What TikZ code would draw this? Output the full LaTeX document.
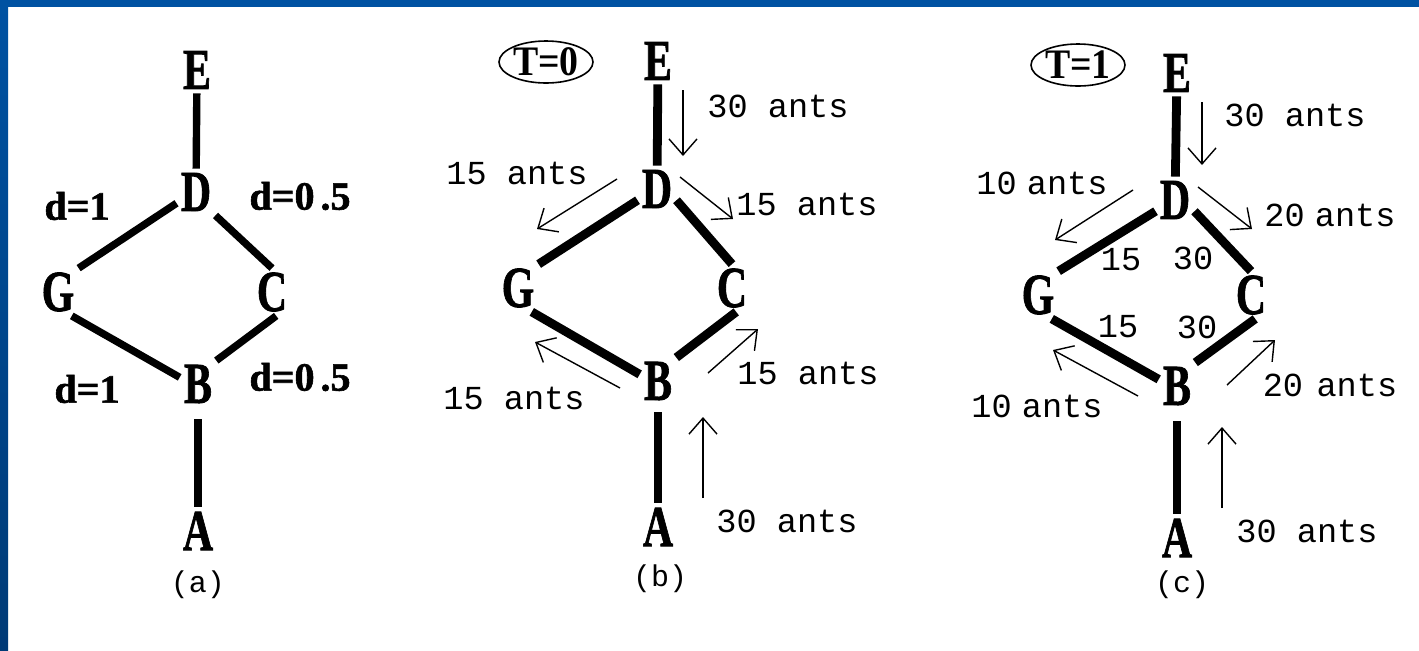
\documentclass[tikz,border=0pt]{standalone}
\usepackage{fontspec}
\usepackage{graphicx}
\setmainfont{Liberation Serif}
\setmonofont{Liberation Mono}
\newfontfamily\heavyserif{Liberation Serif}[BoldFeatures={FakeBold=1.5}]
\usetikzlibrary{arrows.meta,shapes.geometric}
\newcommand{\cond}[1]{\scalebox{0.72}[1]{#1}}
\definecolor{frameblue}{HTML}{0052A2}
\definecolor{framedark}{HTML}{003A76}
\begin{document}
\begin{tikzpicture}[x=0.5pt,y=-0.5pt,
  vtx/.style={font=\fontsize{29}{29}\selectfont\heavyserif\bfseries, inner sep=2pt},
  lab/.style={font=\ttfamily\fontsize{16.8}{16.8}\selectfont, inner sep=0pt},
  dlab/.style={font=\heavyserif\bfseries\fontsize{20}{20}\selectfont, inner sep=0pt},
  capt/.style={font=\ttfamily\fontsize{15}{15}\selectfont, inner sep=0pt},
  tbox/.style={ellipse, draw, line width=0.8pt, minimum width=47pt, minimum height=21pt, inner sep=0pt, font=\bfseries\fontsize{21}{21}\selectfont},
  edgeA/.style={line width=3.7pt},
  edgeB/.style={line width=4.4pt},
  ant/.style={line width=0.7pt, -{Straight Barb[length=8pt,width=14pt,line width=0.7pt]}}]
\useasboundingbox (0,0) rectangle (1419,650);
\fill[white] (0,0) rectangle (1419,650);
\shade[top color=frameblue, bottom color=framedark] (0,0) rectangle (8,650);
\fill[frameblue] (0,0) rectangle (1419,7);

% ---------- panel (a)
\node[vtx] (aE) at (197,70) {\cond{E}};
\node[vtx] (aD) at (196,192) {\cond{D}};
\node[vtx] (aG) at (58,292) {\cond{G}};
\node[vtx] (aC) at (272,292) {\cond{C}};
\node[vtx] (aB) at (198,384) {\cond{B}};
\node[vtx] (aA) at (198,531) {\cond{A}};
\draw[edgeA] (aE) -- (aD);
\draw[edgeA] (aD.210) -- (aG.north east);
\draw[edgeA] (aD.south east) -- (aC.north);
\draw[edgeA] (aG.-60) -- (aB.160);
\draw[edgeA] (aC.-80) -- (aB.north east);
\draw[edgeA,shorten <=6pt] (aB) -- (aA);
\node[dlab] (ad1) at (77,206) {d=1};
\node[dlab] (ad2) at (300,196) {d=0\kern3pt.5};
\node[dlab] (ad3) at (87,389) {d=1};
\node[dlab] (ad4) at (300,377) {d=0\kern3pt.5};
\node[capt] (acap) at (198,585) {(a)};

% ---------- panel (b)
\node[tbox] (bT) at (546,62) {\scalebox{0.9}[1]{T=0}};
\node[vtx] (bE) at (658,61) {\cond{E}};
\node[vtx] (bD) at (657,189) {\cond{D}};
\node[vtx] (bG) at (518,288) {\cond{G}};
\node[vtx] (bC) at (732,288) {\cond{C}};
\node[vtx] (bB) at (658,381) {\cond{B}};
\node[vtx] (bA) at (658,527) {\cond{A}};
\draw[edgeB] (bE) -- (bD);
\draw[edgeB] (bD.210) -- (bG.north east);
\draw[edgeB] (bD.-30) -- (bC.north);
\draw[edgeB] (bG.-60) -- (bB.160);
\draw[edgeB] (bC.-80) -- (bB.north east);
\draw[edgeB,shorten <=4pt] (bB) -- (bA);
\coordinate (b1s) at (683,90);   \coordinate (b1e) at (683,156);
\coordinate (b2s) at (617,179);  \coordinate (b2e) at (537,229);
\coordinate (b3s) at (680,177);  \coordinate (b3e) at (733,219);
\coordinate (b4s) at (620,388);  \coordinate (b4e) at (535,342);
\coordinate (b5s) at (708,373);  \coordinate (b5e) at (758,329);
\coordinate (b6s) at (703,498);  \coordinate (b6e) at (703,417);
\draw[ant] (b1s) -- (b1e);
\draw[ant] (b2s) -- (b2e);
\draw[ant] (b3s) -- (b3e);
\draw[ant] (b4s) -- (b4e);
\draw[ant] (b5s) -- (b5e);
\draw[ant] (b6s) -- (b6e);
\node[lab] (bl1) at (778,106) {30 ants};
\node[lab] (bl2) at (517,173) {15 ants};
\node[lab] (bl3) at (807,204) {15 ants};
\node[lab] (bl4) at (514,398) {15 ants};
\node[lab] (bl5) at (808,373) {15 ants};
\node[lab] (bl6) at (787,521) {30 ants};
\node[capt] (bcap) at (660,579) {(b)};

% ---------- panel (c)
\node[tbox] (cT) at (1078,65) {\scalebox{0.9}[1]{T=1}};
\node[vtx] (cE) at (1177,73) {\cond{E}};
\node[vtx] (cD) at (1175,200) {\cond{D}};
\node[vtx] (cG) at (1038,295) {\cond{G}};
\node[vtx] (cC) at (1251,295) {\cond{C}};
\node[vtx] (cB) at (1177,386) {\cond{B}};
\node[vtx] (cA) at (1177,538) {\cond{A}};
\draw[edgeB] (cE) -- (cD);
\draw[edgeB] (cD.210) -- (cG.north east);
\draw[edgeB] (cD.-30) -- (cC.north);
\draw[edgeB] (cG.-60) -- (cB.160);
\draw[edgeB] (cC.-80) -- (cB.north east);
\draw[edgeB,shorten <=6pt] (cB) -- (cA);
\coordinate (c1s) at (1202,102);  \coordinate (c1e) at (1202,165);
\coordinate (c2s) at (1133,190);  \coordinate (c2e) at (1055,240);
\coordinate (c3s) at (1198,187);  \coordinate (c3e) at (1252,229);
\coordinate (c4s) at (1138,396);  \coordinate (c4e) at (1053,350);
\coordinate (c5s) at (1227,385);  \coordinate (c5e) at (1275,340);
\coordinate (c6s) at (1222,508);  \coordinate (c6e) at (1222,427);
\draw[ant] (c1s) -- (c1e);
\draw[ant] (c2s) -- (c2e);
\draw[ant] (c3s) -- (c3e);
\draw[ant] (c4s) -- (c4e);
\draw[ant] (c5s) -- (c5e);
\draw[ant] (c6s) -- (c6e);
\node[lab] (cl1) at (1295,115) {30 ants};
\node[lab] (cl2) at (1042,183) {10\hspace{0.3em}ants};
\node[lab] (cl3) at (1330,215) {20\hspace{0.3em}ants};
\node[lab] (cl4) at (1037,406) {10\hspace{0.3em}ants};
\node[lab] (cl5) at (1330,385) {20\hspace{0.4em}ants};
\node[lab] (cl6) at (1307,531) {30 ants};
\node[lab] (cn1) at (1121,260) {15};
\node[lab] (cn2) at (1193,258) {30};
\node[lab] (cn3) at (1118,327) {15};
\node[lab] (cn4) at (1197,327) {30};
\node[capt] (ccap) at (1182,585) {(c)};
\end{tikzpicture}
\end{document}
